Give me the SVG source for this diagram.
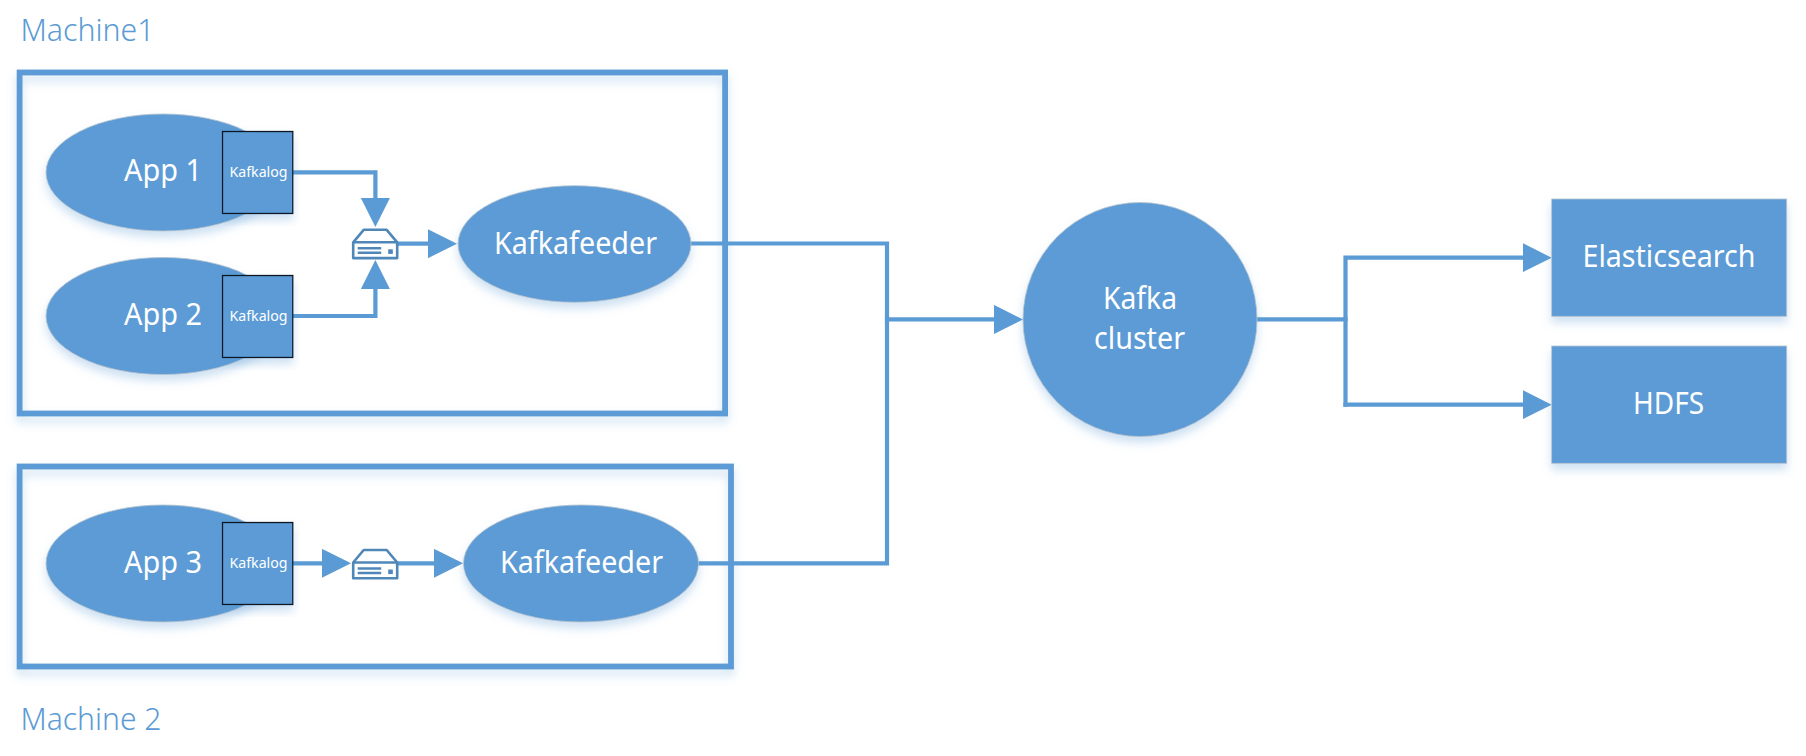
<svg xmlns="http://www.w3.org/2000/svg" width="1806" height="756" viewBox="0 0 1806 756">
<style>
text{font-family:"Noto Sans","Open Sans","Liberation Sans",sans-serif;fill:#fff;text-anchor:start}
.lbl{font-size:30.5px;fill:#5b9bd5;font-weight:300}
.big{font-size:31px}
.sm{font-size:14.5px}
.frame{fill:none;stroke:#5b9bd5;stroke-width:5.8}
.shape{fill:#5b9bd5;stroke:#b9c4cd;stroke-width:.8}
.log{fill:#5b9bd5;stroke:#101820;stroke-width:1.3}
.conn path{fill:none;stroke:#5b9bd5;stroke-width:4.2;stroke-linecap:square;marker-end:url(#arrow)}
.conn path.plain{marker-end:none}
.ico{fill:none;stroke:#4f87b8;stroke-width:2.6;stroke-linejoin:round}
.icof{fill:#4f87b8}
</style>
<defs>
<filter id="sh" x="-10%" y="-10%" width="120%" height="125%"><feDropShadow dx="0" dy="6" stdDeviation="5" flood-color="#5b9bd5" flood-opacity=".3"/></filter>
<marker id="arrow" markerUnits="userSpaceOnUse" viewBox="0 0 29 29" markerWidth="29" markerHeight="29" refX="17" refY="14.5" orient="auto"><path d="M0 0L29 14.5L0 29Z" fill="#5b9bd5"/></marker>
<g id="server">
<path class="ico" d="M1.5 14L12 1.5H35L45.5 14V29.8H1.5Z" fill="#fff"/>
<path class="ico" d="M1.5 14H45.5"/>
<path class="ico" stroke-width="1.8" d="M6 20H29.5M6 24.5H29.5"/>
<rect class="icof" x="36.5" y="21" width="4.6" height="4.6"/>
</g>
</defs>
<g id="machine1"><rect class="frame" x="19.6" y="72.5" width="705.5" height="341" filter="url(#sh)"/><text class="lbl" x="20.5" y="41" textLength="134" lengthAdjust="spacingAndGlyphs">Machine1</text></g>
<g id="machine2"><rect class="frame" x="19.6" y="466.5" width="711.4" height="200" filter="url(#sh)"/><text class="lbl" x="20.5" y="729.5" textLength="141" lengthAdjust="spacingAndGlyphs">Machine 2</text></g>
<g id="connectors" class="conn">
<path d="M293 172.3H375.4V215"/>
<path d="M293 316H375.4V272"/>
<path d="M398 243.7H445"/>
<path d="M293 563.3H339"/>
<path d="M398 563.3H451"/>
<path class="plain" d="M691 243.5H887V563.3H698"/>
<path d="M887 319.4H1011"/>
<path class="plain" d="M1257 319.4H1345.5"/>
<path d="M1345.5 404.7V257.7H1539.7"/>
<path d="M1345.5 404.7H1539.7"/>
</g>
<g id="app1"><ellipse class="shape" cx="163" cy="172.5" rx="117" ry="58.5" filter="url(#sh)"/><text class="big" x="124" y="181" textLength="78" lengthAdjust="spacingAndGlyphs">App 1</text></g>
<g id="log1"><rect class="log" x="222.5" y="131.5" width="70.3" height="82" filter="url(#sh)"/><text class="sm" x="229.5" y="177" textLength="58" lengthAdjust="spacingAndGlyphs">Kafkalog</text></g>
<g id="app2"><ellipse class="shape" cx="163" cy="316" rx="117" ry="58.5" filter="url(#sh)"/><text class="big" x="124" y="325" textLength="78" lengthAdjust="spacingAndGlyphs">App 2</text></g>
<g id="log2"><rect class="log" x="222.5" y="275.5" width="70.3" height="82" filter="url(#sh)"/><text class="sm" x="229.5" y="321" textLength="58" lengthAdjust="spacingAndGlyphs">Kafkalog</text></g>
<g id="app3"><ellipse class="shape" cx="163" cy="563.5" rx="117" ry="58.5" filter="url(#sh)"/><text class="big" x="124" y="572.7" textLength="78" lengthAdjust="spacingAndGlyphs">App 3</text></g>
<g id="log3"><rect class="log" x="222.5" y="522.5" width="70.3" height="82" filter="url(#sh)"/><text class="sm" x="229.5" y="568" textLength="58" lengthAdjust="spacingAndGlyphs">Kafkalog</text></g>
<g id="server1"><use href="#server" x="351.7" y="228.3"/></g>
<g id="server2"><use href="#server" x="351.7" y="548.5"/></g>
<g id="feeder1"><ellipse class="shape" cx="574.5" cy="244" rx="116.5" ry="58.3" filter="url(#sh)"/><text class="big" x="494" y="254" textLength="163" lengthAdjust="spacingAndGlyphs">Kafkafeeder</text></g>
<g id="feeder2"><ellipse class="shape" cx="581" cy="563.5" rx="117.5" ry="58.5" filter="url(#sh)"/><text class="big" x="500" y="572.7" textLength="163" lengthAdjust="spacingAndGlyphs">Kafkafeeder</text></g>
<g id="kafka"><circle class="shape" cx="1140" cy="319.5" r="117" filter="url(#sh)"/><text class="big" x="1103" y="309" textLength="74" lengthAdjust="spacingAndGlyphs">Kafka</text><text class="big" x="1094" y="349" textLength="91" lengthAdjust="spacingAndGlyphs">cluster</text></g>
<g id="elasticsearch"><rect class="shape" x="1551.7" y="199" width="235" height="117.3" filter="url(#sh)"/><text class="big" x="1582.5" y="267.3" textLength="173" lengthAdjust="spacingAndGlyphs">Elasticsearch</text></g>
<g id="hdfs"><rect class="shape" x="1551.7" y="346" width="235" height="117.3" filter="url(#sh)"/><text class="big" x="1633" y="414.3" textLength="71" lengthAdjust="spacingAndGlyphs">HDFS</text></g>
</svg>
